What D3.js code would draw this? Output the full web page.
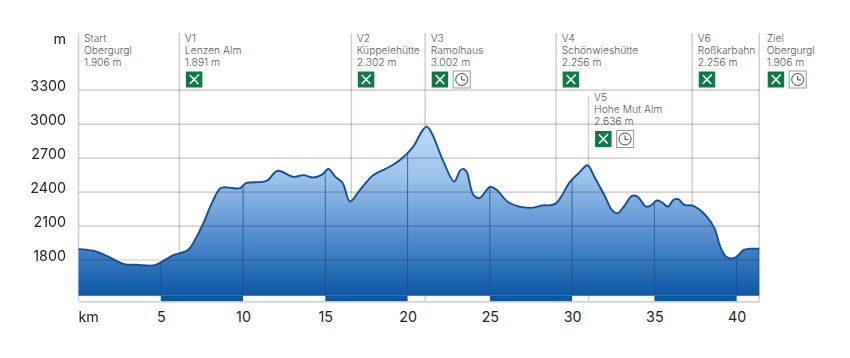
<!DOCTYPE html>
<html>
<head>
<meta charset="utf-8">
<style>
  html, body { margin: 0; padding: 0; background: #fff; }
  svg { display: block; }
  .tick text, .unit { font-family: Inter, sans-serif; font-size: 14.3px; fill: #222; }
  .stop text { font-family: Inter, sans-serif; font-size: 10.3px; font-weight: 300; fill: #555; }
  .grid line { stroke: #c4c4c4; stroke-width: 1.2; }
</style>
</head>
<body>
<div id="chart"></div>
<script src="https://cdn.jsdelivr.net/npm/d3@7"></script>
<script>
// Profile
var km = [0, 0.9, 1.71, 2.72, 3.54, 4.65, 5.26, 5.76, 6.67, 7.08, 7.59, 8.1, 8.6, 8.85, 9.3, 9.82, 10.18, 11.44, 12.09, 13.06, 13.67, 14.27, 14.78, 15.19, 15.6, 16.06, 16.5, 17.11, 17.92, 18.73, 19.54, 20.35, 20.86, 21.17, 21.47, 22.18, 22.83, 23.19, 23.4, 23.6, 24.0, 24.37, 25.01, 25.42, 26.13, 27.45, 28.16, 28.97, 29.88, 30.49, 30.93, 31.4, 32.0, 32.41, 32.75, 33.12, 33.63, 33.97, 34.48, 34.78, 35.15, 35.45, 35.82, 36.16, 36.46, 36.81, 37.37, 38.09, 38.65, 39.0, 39.34, 39.65, 39.97, 40.42, 40.8, 41.37];
var elevation = [1892, 1877, 1833, 1762, 1753, 1750, 1797, 1838, 1886, 1974, 2121, 2298, 2428, 2438, 2432, 2430, 2474, 2495, 2583, 2530, 2545, 2524, 2547, 2600, 2532, 2474, 2312, 2415, 2547, 2606, 2680, 2797, 2930, 2974, 2915, 2665, 2488, 2585, 2600, 2572, 2371, 2342, 2442, 2415, 2306, 2256, 2277, 2291, 2488, 2576, 2633, 2518, 2356, 2239, 2209, 2262, 2362, 2356, 2268, 2277, 2321, 2306, 2268, 2327, 2333, 2283, 2274, 2195, 2077, 1915, 1827, 1809, 1821, 1885, 1895, 1895];

var yTicks = [1800, 2100, 2400, 2700, 3000, 3300];
var xTicks = [5, 10, 15, 20, 25, 30, 35, 40];
var kmBands = [[5, 10], [15, 20], [25, 30], [35, 40]];

var stopKm = [0, 6.13, 16.58, 21.07, 29.03, 31.0, 37.3, 41.37];
var stopCodes = ["Start", "V1", "V2", "V3", "V4", "V5", "V6", "Ziel"];
var stopNames = ["Obergurgl", "Lenzen Alm", "Küppelehütte", "Ramolhaus", "Schönwieshütte", "Hohe Mut Alm", "Roßkarbahn", "Obergurgl"];
var stopHeights = ["1.906 m", "1.891 m", "2.302 m", "3.002 m", "2.256 m", "2.636 m", "2.256 m", "1.906 m"];
var stopFood = [false, true, true, true, true, true, true, true];
var stopClock = [false, false, false, true, false, true, false, true];

var width = 850, height = 358;
var left = 78.5, right = 759.2;
var axisY = 301.3, baseY = 295.7;

var x = d3.scaleLinear().domain([0, 41.37]).range([left, right]);
var y = d3.scaleLinear().domain([1800, 3300]).range([259.5, 89.7]);

var svg = d3.select("#chart").append("svg")
    .attr("width", width)
    .attr("height", height);

var points = km.map(function(d, i) { return [d, elevation[i]]; });

var area = d3.area()
    .x(function(d) { return x(d[0]); })
    .y0(baseY)
    .y1(function(d) { return y(d[1]); })
    .curve(d3.curveCatmullRom.alpha(0.5));

var line = area.lineY1();

var defs = svg.append("defs");
var grad = defs.append("linearGradient")
    .attr("id", "fill")
    .attr("gradientUnits", "userSpaceOnUse")
    .attr("x1", 0).attr("x2", 0)
    .attr("y1", 125).attr("y2", baseY);
[[0, "#bcdcf6"], [0.3, "#9cc3ea"], [0.6, "#5f95d2"], [0.82, "#2f73bb"], [1, "#0e57a5"]].forEach(function(s) {
  grad.append("stop").attr("offset", s[0]).attr("stop-color", s[1]);
});
defs.append("clipPath").attr("id", "profile")
    .append("path").attr("d", area(points));

// Stop lines sit behind the profile
var stops = svg.selectAll(".stop")
    .data(stopKm)
    .enter().append("g")
    .attr("class", "stop")
    .attr("transform", function(d) { return "translate(" + x(d) + ",0)"; });

stops.append("line")
    .attr("y1", function(d, i) { return i == 5 ? 96 : 33; })
    .attr("y2", axisY)
    .attr("stroke", "#cfcfcf")
    .attr("stroke-width", 1.5);

// the last stop's label sits a little further from its line
function labelShift(i) { return i == 7 ? 2 : 0; }

var rows = [stopCodes, stopNames, stopHeights];
rows.forEach(function(row, r) {
  stops.append("text")
      .attr("x", function(d, i) { return 5.5 + labelShift(i); })
      .attr("y", function(d, i) { return (i == 5 ? 101 : 41.5) + r * 12; })
      .text(function(d, i) { return row[i]; });
});

// Food and opening-hours icons
stops.each(function(d, i) {
  var top = i == 5 ? 131 : 71.5;
  var g = d3.select(this).append("g")
      .attr("transform", "translate(" + labelShift(i) + ",0)");
  if (stopFood[i]) {
    g.append("rect").attr("x", 6.5).attr("y", top).attr("width", 16.5).attr("height", 16).attr("fill", "#0f7a45");
    g.append("path")
        .attr("d", "M10.5," + (top + 3.5) + "L19,"+ (top + 12.5) + "M19.5," + (top + 3) + "L10.5," + (top + 12.5))
        .attr("stroke", "#fff").attr("stroke-width", 1.6).attr("fill", "none");
  }
  if (stopClock[i]) {
    g.append("rect").attr("x", 28).attr("y", top - 0.5).attr("width", 17).attr("height", 17)
        .attr("fill", "#fff").attr("stroke", "#999").attr("stroke-width", 1);
    g.append("circle").attr("cx", 36.5).attr("cy", top + 8).attr("r", 6)
        .attr("fill", "none").attr("stroke", "#444").attr("stroke-width", 1);
    g.append("path").attr("d", "M36.5," + (top + 4.5) + "V" + (top + 8.5) + "H40")
        .attr("fill", "none").attr("stroke", "#444").attr("stroke-width", 1);
  }
});

svg.append("path")
    .attr("d", area(points))
    .attr("fill", "url(#fill)");

// Darker kilometre blocks under the profile
svg.selectAll(".band")
    .data(kmBands)
    .enter().append("rect")
    .attr("x", function(d) { return x(d[0]); })
    .attr("width", function(d) { return x(d[1]) - x(d[0]); })
    .attr("y", baseY)
    .attr("height", axisY - baseY)
    .attr("fill", "#0f559f");

// Horizontal grid over the profile, labels sit a bit above their lines
var yAxis = d3.axisLeft(y)
    .tickValues(yTicks)
    .tickSize(right - left)
    .tickPadding(12.5)
    .tickFormat(d3.format("d"));

svg.append("g")
    .attr("class", "grid")
    .attr("transform", "translate(" + right + ",0)")
    .style("mix-blend-mode", "multiply")
    .call(yAxis)
    .call(function(g) {
      g.select(".domain").remove();
      g.selectAll("text").attr("dy", "0.08em");
    });

var xAxis = d3.axisBottom(x)
    .tickValues(xTicks)
    .tickSize(0)
    .tickPadding(11)
    .tickFormat(d3.format("d"));

svg.append("g")
    .attr("transform", "translate(0," + axisY + ")")
    .call(xAxis)
    .call(function(g) {
      g.select(".domain").attr("stroke", "#c4c4c4").attr("stroke-width", 1.2);
    });

// Kilometre lines only show inside the profile
svg.append("g")
    .attr("clip-path", "url(#profile)")
    .selectAll("line")
    .data(xTicks.concat([41.37]))
    .enter().append("line")
    .attr("x1", function(d) { return d == 41.37 ? x(d) - 0.5 : x(d); })
    .attr("x2", function(d) { return d == 41.37 ? x(d) - 0.5 : x(d); })
    .attr("y1", 0)
    .attr("y2", baseY)
    .attr("stroke", "#1b4f8c")
    .attr("stroke-opacity", 0.75)
    .attr("stroke-width", 1);

svg.append("path")
    .attr("d", line(points))
    .attr("fill", "none")
    .attr("stroke", "#134f94")
    .attr("stroke-width", 1.9);

svg.append("text").attr("class", "unit").attr("x", 66).attr("y", 44).attr("text-anchor", "end").text("m");
svg.append("text").attr("class", "unit").attr("x", left).attr("y", 322).text("km");
</script>
</body>
</html>
